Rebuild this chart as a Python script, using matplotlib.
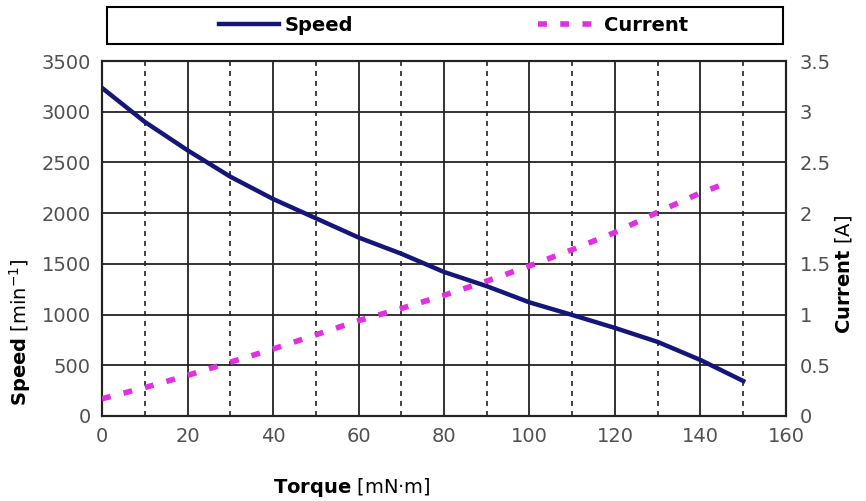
import matplotlib
matplotlib.use("Agg")
import matplotlib.pyplot as plt
from matplotlib.patches import Rectangle

torque = [0, 10, 20, 30, 40, 50, 60, 70, 80, 90, 100, 110, 120, 130, 140, 150]
speed = [3235, 2900, 2620, 2360, 2140, 1950, 1760, 1600, 1420, 1280, 1120, 996, 868, 730, 552, 345]
cur_torque = [0, 10, 20, 30, 40, 50, 60, 70, 80, 90, 100, 110, 120, 130, 140, 147]
current = [0.17, 0.28, 0.40, 0.53, 0.66, 0.80, 0.94, 1.06, 1.19, 1.33, 1.48, 1.64, 1.81, 2.01, 2.20, 2.31]

xticks = [0, 20, 40, 60, 80, 100, 120, 140, 160]
yticks_left = [0, 500, 1000, 1500, 2000, 2500, 3000, 3500]
yticks_right = [0, 0.5, 1, 1.5, 2, 2.5, 3, 3.5]
yticklabels_right = ["0", "0.5", "1", "1.5", "2", "2.5", "3", "3.5"]

plt.rcParams["mathtext.fontset"] = "dejavusans"
tick_font = ["DejaVu Sans Condensed", "DejaVu Sans"]

fig = plt.figure(figsize=(8.66, 5.01), dpi=100)
ax = fig.add_axes([0.1178, 0.1697, 0.7898, 0.7085])
ax2 = ax.twinx()

ax.set_xlim(0, 160)
ax.set_ylim(0, 3500)
ax2.set_ylim(0, 3.5)

# grid
for y in yticks_left[1:-1]:
    ax.axhline(y, color="#222222", lw=1.3, zorder=1)
for x in range(20, 160, 20):
    ax.axvline(x, color="#222222", lw=1.3, zorder=1)
for x in range(10, 160, 20):
    ax.axvline(x, color="#222222", lw=1.2, ls=(0, (3, 3)), zorder=1)

l1, = ax.plot(torque, speed, color="#15157a", lw=3.2, zorder=3, label="Speed")
l2, = ax2.plot(cur_torque, current, color="#e030e0", lw=4, ls=(0, (1.6, 2.4)),
               zorder=3, label="Current")

ax.set_xticks(xticks)
ax.set_yticks(yticks_left)
ax2.set_yticks(yticks_right)
ax2.set_yticklabels(yticklabels_right)
for a in (ax, ax2):
    a.tick_params(length=0, labelsize=14, labelcolor="#505050", pad=8)
    for lab in a.get_xticklabels() + a.get_yticklabels():
        lab.set_family(tick_font)
    for s in a.spines.values():
        s.set_color("#222222")
        s.set_linewidth(1.5)
ax2.tick_params(pad=10)

# axis labels
fig.text(0.023, 0.337, r"$\mathbf{Speed}$ [min$^{-1}$]", rotation=90, fontsize=14,
         ha="center", va="center")
fig.text(0.974, 0.451, r"$\mathbf{Current}$ [A]", rotation=90, fontsize=14,
         ha="center", va="center")
fig.text(0.406, 0.026, r"$\mathbf{Torque}$ [mN·m]", fontsize=14,
         ha="center", va="center")

# legend box
fig.patches.append(Rectangle((0.1236, 0.912), 0.7806, 0.0739, transform=fig.transFigure,
                             fill=False, edgecolor="black", lw=1.5))
leg = fig.legend([l1, l2], ["Speed", "Current"], loc="center",
                 bbox_to_anchor=(0.524, 0.949), ncol=2, frameon=False,
                 handlelength=3.1, handletextpad=0.3, columnspacing=9.5,
                 prop={"weight": "bold", "size": 14})

fig.savefig("out.png", dpi=100)
